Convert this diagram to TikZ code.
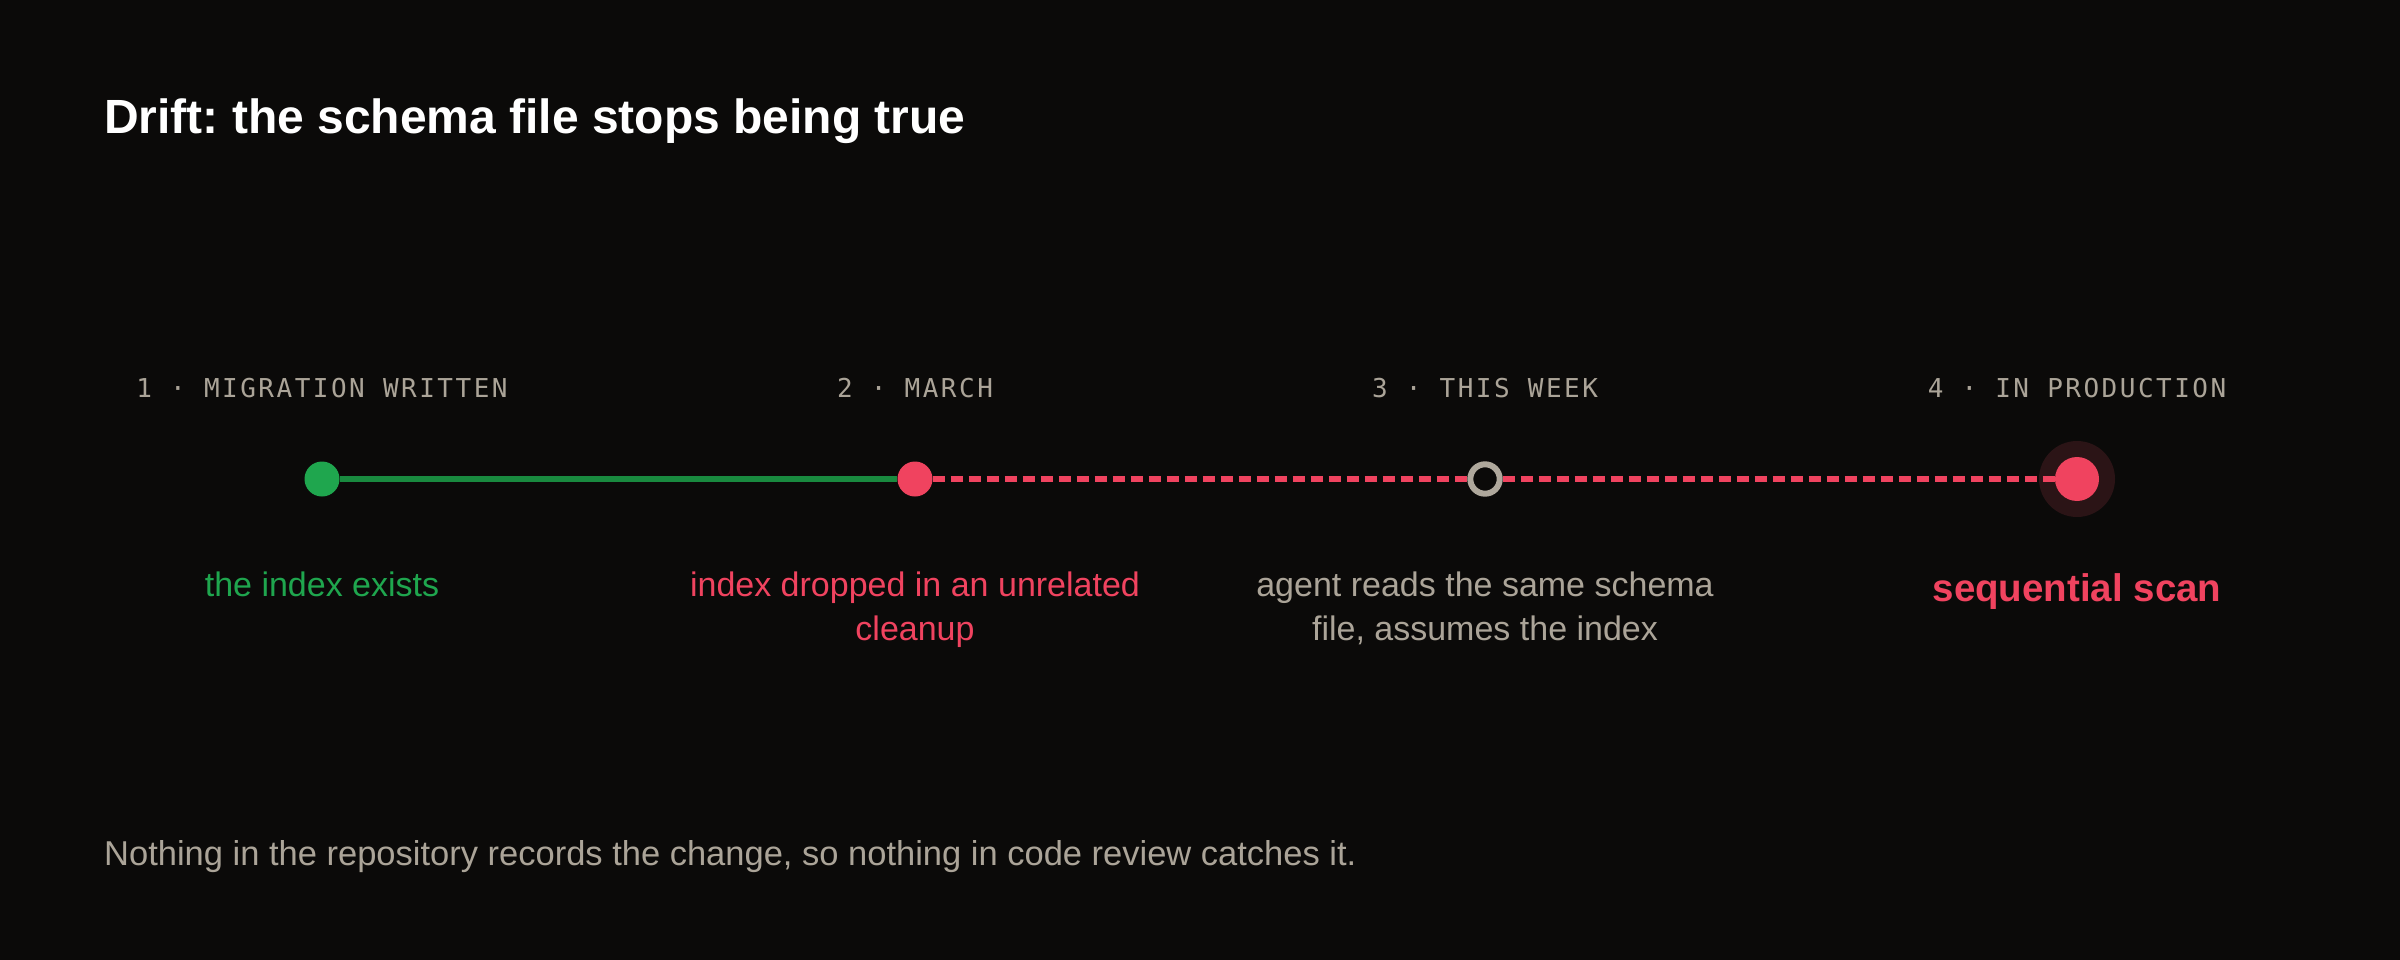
\documentclass[tikz,border=0pt]{standalone}
\usepackage{fontspec}
\setmainfont{Liberation Sans}
\newfontfamily\stepmono[LetterSpace=9.6]{DejaVu Sans Mono}
\definecolor{bgc}{HTML}{0B0A09}
\definecolor{txtgray}{HTML}{ABA498}
\definecolor{ringgray}{HTML}{AFA89C}
\definecolor{okgreen}{HTML}{1FA64E}
\definecolor{linegreen}{HTML}{198A3F}
\definecolor{badred}{HTML}{F0435F}
\definecolor{halored}{HTML}{2B1416}
\pgfdeclarelayer{back}
\pgfdeclarelayer{mid}
\pgfsetlayers{back,mid,main}
\frenchspacing
\tikzset{
  steplabel/.style={anchor=base, text=txtgray, inner sep=0pt, font=\stepmono\fontsize{26}{30}\selectfont},
  desc/.style={anchor=base, align=center, inner sep=0pt, font=\fontsize{34}{44}\selectfont},
  dotnode/.style={circle, inner sep=0pt, minimum size=35pt, draw=none},
  ringnode/.style={circle, inner sep=0pt, minimum size=29.4pt, draw=ringgray, line width=6pt, fill=bgc},
  solidlink/.style={draw=linegreen, line width=5.5pt},
  dashlink/.style={draw=badred, line width=5.5pt, dash pattern=on 12pt off 6pt},
}
\begin{document}
\begin{tikzpicture}[x=1pt, y=-1pt]
\begin{pgfonlayer}{back}
\fill[bgc] (0,0) rectangle (2400,960);
\end{pgfonlayer}
\useasboundingbox (0,0) rectangle (2400,960);

\node[anchor=base west, inner sep=0pt, text=white, font=\fontsize{48}{56}\selectfont\bfseries] (title) at (104,134) {Drift: the schema file stops being true};

% step labels
\node[steplabel] (l1) at (322,397) {1 · MIGRATION WRITTEN};
\node[steplabel] (l2) at (915,397) {2 · MARCH};
\node[steplabel] (l3) at (1485,397) {3 · THIS WEEK};
\node[steplabel] (l4) at (2077,397) {4 · IN PRODUCTION};

% timeline nodes
\node[dotnode, fill=okgreen] (n1) at (322,479) {};
\node[dotnode, fill=badred] (n2) at (915,479) {};
\node[ringnode] (n3) at (1485,479) {};
\node[dotnode, fill=badred, minimum size=44pt] (n4) at (2077,479) {};

\begin{pgfonlayer}{mid}
\fill[halored] (n4.center) circle[radius=38pt];
\draw[solidlink] (n1) -- (n2);
\draw[dashlink] (n2) -- (n3);
\draw[dashlink] (n3) -- (n4);
\end{pgfonlayer}

% descriptions (base anchor = baseline of the last line)
\node[desc, text=okgreen] (d1) at (322,596) {the index exists};
\node[desc, text=badred] (d2) at (915,640) {index dropped in an unrelated\\cleanup};
\node[desc, text=txtgray] (d3) at (1485,640) {agent reads the same schema\\file, assumes the index};
\node[anchor=base, inner sep=0pt, text=badred, font=\fontsize{38.5}{46}\selectfont\bfseries] (d4) at (2077,601) {sequential scan};

\node[anchor=base west, inner sep=0pt, text=txtgray, font=\fontsize{34.5}{44}\selectfont] (foot) at (104,865) {Nothing in the repository records the change, so nothing in code review catches it.};
\end{tikzpicture}
\end{document}
